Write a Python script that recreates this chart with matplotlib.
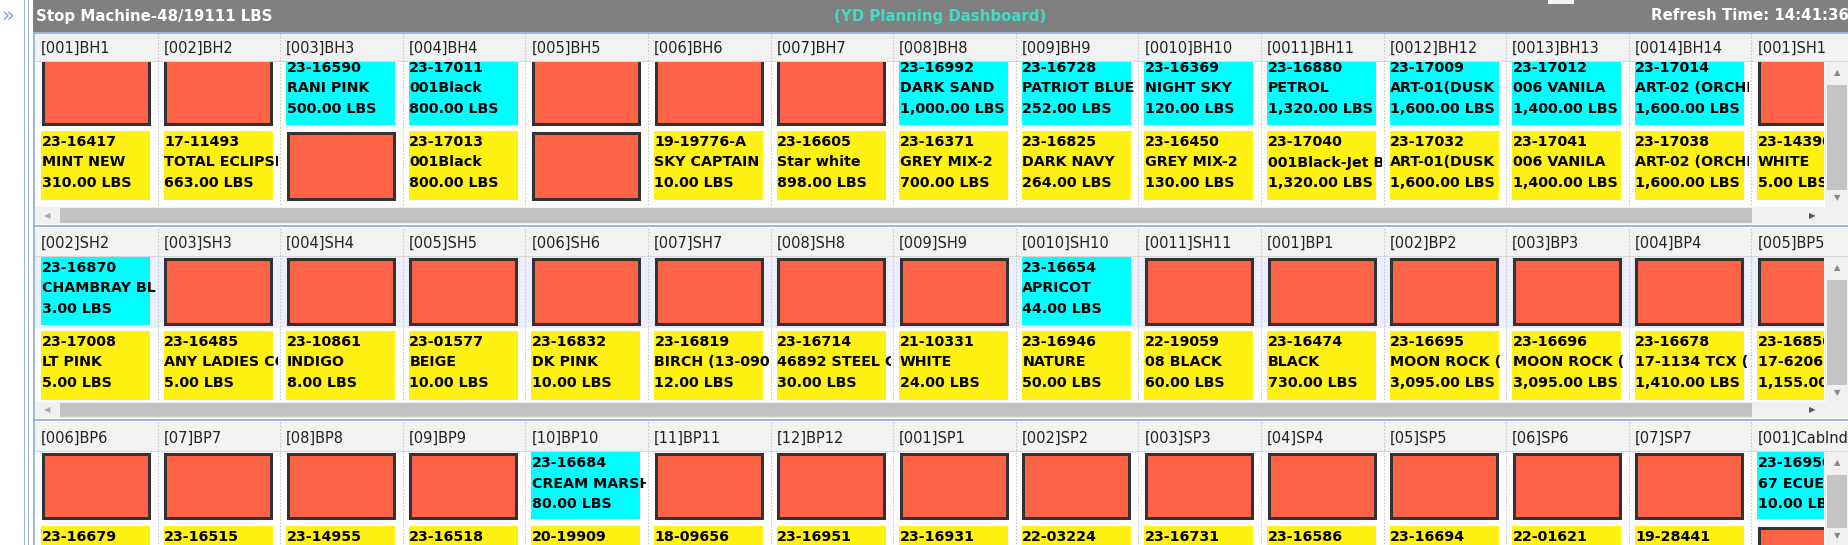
import matplotlib
matplotlib.use('Agg')
import matplotlib.pyplot as plt
from matplotlib.patches import Rectangle

# ---- data ----
title_left = "Stop Machine-48/19111 LBS"
title_mid = "(YD Planning Dashboard)"
title_right = "Refresh Time: 14:41:36"

heads1 = ["[001]BH1", "[002]BH2", "[003]BH3", "[004]BH4", "[005]BH5", "[006]BH6", "[007]BH7",
          "[008]BH8", "[009]BH9", "[0010]BH10", "[0011]BH11", "[0012]BH12", "[0013]BH13",
          "[0014]BH14", "[001]SH1"]
top1 = [None, None, ("23-16590", "RANI PINK", "500.00 LBS"), ("23-17011", "001Black", "800.00 LBS"),
        None, None, None, ("23-16992", "DARK SAND", "1,000.00 LBS"),
        ("23-16728", "PATRIOT BLUE", "252.00 LBS"), ("23-16369", "NIGHT SKY", "120.00 LBS"),
        ("23-16880", "PETROL", "1,320.00 LBS"), ("23-17009", "ART-01(DUSK", "1,600.00 LBS"),
        ("23-17012", "006 VANILA", "1,400.00 LBS"), ("23-17014", "ART-02 (ORCHID", "1,600.00 LBS"), None]
bot1 = [("23-16417", "MINT NEW", "310.00 LBS"), ("17-11493", "TOTAL ECLIPSE", "663.00 LBS"), None,
        ("23-17013", "001Black", "800.00 LBS"), None, ("19-19776-A", "SKY CAPTAIN", "10.00 LBS"),
        ("23-16605", "Star white", "898.00 LBS"), ("23-16371", "GREY MIX-2", "700.00 LBS"),
        ("23-16825", "DARK NAVY", "264.00 LBS"), ("23-16450", "GREY MIX-2", "130.00 LBS"),
        ("23-17040", "001Black-Jet Black", "1,320.00 LBS"), ("23-17032", "ART-01(DUSK", "1,600.00 LBS"),
        ("23-17041", "006 VANILA", "1,400.00 LBS"), ("23-17038", "ART-02 (ORCHID", "1,600.00 LBS"),
        ("23-14390", "WHITE", "5.00 LBS")]

heads2 = ["[002]SH2", "[003]SH3", "[004]SH4", "[005]SH5", "[006]SH6", "[007]SH7", "[008]SH8",
          "[009]SH9", "[0010]SH10", "[0011]SH11", "[001]BP1", "[002]BP2", "[003]BP3", "[004]BP4",
          "[005]BP5"]
top2 = [("23-16870", "CHAMBRAY BLUE", "3.00 LBS"), None, None, None, None, None, None, None,
        ("23-16654", "APRICOT", "44.00 LBS"), None, None, None, None, None, None]
bot2 = [("23-17008", "LT PINK", "5.00 LBS"), ("23-16485", "ANY LADIES COLOR", "5.00 LBS"),
        ("23-10861", "INDIGO", "8.00 LBS"), ("23-01577", "BEIGE", "10.00 LBS"),
        ("23-16832", "DK PINK", "10.00 LBS"), ("23-16819", "BIRCH (13-0905)", "12.00 LBS"),
        ("23-16714", "46892 STEEL GREY", "30.00 LBS"), ("21-10331", "WHITE", "24.00 LBS"),
        ("23-16946", "NATURE", "50.00 LBS"), ("22-19059", "08 BLACK", "60.00 LBS"),
        ("23-16474", "BLACK", "730.00 LBS"), ("23-16695", "MOON ROCK (", "3,095.00 LBS"),
        ("23-16696", "MOON ROCK (", "3,095.00 LBS"), ("23-16678", "17-1134 TCX (", "1,410.00 LBS"),
        ("23-16850", "17-6206 TCX", "1,155.00 LBS")]

heads3 = ["[006]BP6", "[07]BP7", "[08]BP8", "[09]BP9", "[10]BP10", "[11]BP11", "[12]BP12",
          "[001]SP1", "[002]SP2", "[003]SP3", "[04]SP4", "[05]SP5", "[06]SP6", "[07]SP7",
          "[001]CabInd"]
top3 = [None, None, None, None, ("23-16684", "CREAM MARSH", "80.00 LBS"), None, None, None, None,
        None, None, None, None, None, ("23-16950", "67 ECUE", "10.00 LBS")]
bot3 = [("23-16679", "", ""), ("23-16515", "", ""), ("23-14955", "", ""), ("23-16518", "", ""),
        ("20-19909", "", ""), ("18-09656", "", ""), ("23-16951", "", ""), ("23-16931", "", ""),
        ("22-03224", "", ""), ("23-16731", "", ""), ("23-16586", "", ""), ("23-16694", "", ""),
        ("22-01621", "", ""), ("19-28441", "", ""), None]

W, H = 1849, 545
X0, PITCH, CW = 41, 122.6, 109
RED, CYAN, YEL = '#ff6347', '#00ffff', '#fff212'

fig = plt.figure(figsize=(W / 100, H / 100), dpi=100)
ax = fig.add_axes([0, 0, 1, 1])
ax.set_xlim(0, W)
ax.set_ylim(H, 0)
ax.axis('off')


def rect(x, y, w, h, fc, ec='none', lw=0, z=1):
    r = Rectangle((x, y), w, h, facecolor=fc, edgecolor=ec, linewidth=lw, zorder=z)
    ax.add_patch(r)
    return r


def cell(i, y0, y1, item, color, ty):
    x = X0 + i * PITCH
    right = min(x + PITCH - 8, 1824)
    if item is None:
        r = rect(x + 1.5, y0 + 1.5, CW - 3, y1 - y0 - 3, RED, '#333333', 2.2, 2)
        r.set_clip_path(Rectangle((x - 2, y0 - 20), min(CW + 4, 1824 - x + 2), y1 - y0 + 40,
                                  transform=ax.transData))
        return
    r = rect(x, y0, min(CW, 1824 - x), y1 - y0, color, z=2)
    for k, s in enumerate(item):
        if not s:
            continue
        t = ax.text(x + 0.5, ty + k * 20.5, s, fontsize=10.3, fontweight='bold', color='black',
                    va='center', ha='left', zorder=3)
        t.set_clip_path(Rectangle((x, y0 - 20), right - x, y1 - y0 + 40, transform=ax.transData))
        t.set_clip_on(True)


def panel(heads, tops, bots, ph, pt, pb, sb, tint):
    hy0, hy1 = ph
    rect(35, hy1, 1790, pt[1] - hy1 + 3, tint, z=0)
    for i in range(len(heads)):
        cell(i, pt[0], pt[1], tops[i], CYAN, pt[2])
        cell(i, pb[0], pb[1], bots[i], YEL, pb[0] + 11)
        xs = X0 + i * PITCH - 6
        if i > 0:
            ax.plot([xs, xs], [hy0, sb[0]], color='#c8c8c8', lw=0.8, ls=(0, (1.5, 1.5)), zorder=1)
    # header strip drawn over scrolled content
    rect(35, hy0, 1814, hy1 - hy0, '#f2f2f2', z=5)
    rect(35, hy1 - 1, 1814, 1, '#d6d6d6', z=5)
    for i, h in enumerate(heads):
        xs = X0 + i * PITCH - 6
        if i > 0:
            ax.plot([xs, xs], [hy0, hy1], color='#c8c8c8', lw=0.8, ls=(0, (1.5, 1.5)), zorder=6)
        t = ax.text(X0 + i * PITCH, (hy0 + hy1) / 2 + 1, h, fontsize=10.5, color='#222222',
                    va='center', ha='left', zorder=6)
        t.set_clip_path(Rectangle((35, hy0), 1849 - 35, hy1 - hy0, transform=ax.transData))
        t.set_clip_on(True)
    # vertical scrollbar
    vs0, vs1 = hy1, sb[0]
    rect(1825, vs0, 24, vs1 - vs0, '#f0f0f0', z=7)
    rect(1827, vs0 + 23, 20, vs1 - vs0 - 40, '#c4c4c4', z=8)
    ax.text(1837, vs0 + 11, '\u25b2', fontsize=6, color='#888888', ha='center', va='center', zorder=9)
    ax.text(1837, vs1 - 9, '\u25bc', fontsize=6, color='#888888', ha='center', va='center', zorder=9)
    # horizontal scrollbar
    if sb[1] is not None:
        rect(35, sb[0], 1814, sb[1] - sb[0], '#f0f0f0', z=7)
        rect(60, sb[0] + 1, 1692, sb[1] - sb[0] - 2, '#c2c2c2', z=8)
        ym = (sb[0] + sb[1]) / 2
        ax.text(47, ym, '\u25c0', fontsize=6, color='#aaaaaa', ha='center', va='center', zorder=9)
        ax.text(1812, ym, '\u25b6', fontsize=6, color='#555555', ha='center', va='center', zorder=9)
        rect(33, sb[1] + 1, 1816, 1.5, '#9db8e0', z=9)


# left gutter
ax.text(8, 15, '\u00bb', fontsize=15, color='#7aa7e0', ha='center', va='center')
rect(24, 0, 1.2, H, '#9db8e0')
rect(27.5, 0, 1.2, H, '#9db8e0')
rect(33, 32, 1.5, H, '#9db8e0', z=10)

# title bar
rect(33, 0, W - 33, 32, '#808080', z=10)
rect(1548, 0, 26, 4, '#f4f4f4', z=11)
ax.text(36, 16, title_left, fontsize=10.8, fontweight='bold', color='white', va='center', zorder=12)
ax.text(940, 16, title_mid, fontsize=10.8, fontweight='bold', color='#40dcc8', va='center',
        ha='center', zorder=12)
ax.text(1849, 16, title_right, fontsize=10.8, fontweight='bold', color='white', va='center',
        ha='right', zorder=12)
rect(33, 32, W - 33, 1.5, '#9db8e0', z=10)

panel(heads1, top1, bot1, (33, 62), (50, 125, 68), (131, 200), (207, 224), 'white')
panel(heads2, top2, bot2, (228, 257), (257, 325, 268), (331, 400), (402, 418), '#e9f0fb')
panel(heads3, top3, bot3, (422, 452), (452, 519, 463), (526, 600), (545, None), '#ffffff')

fig.savefig('out.png', dpi=100)
